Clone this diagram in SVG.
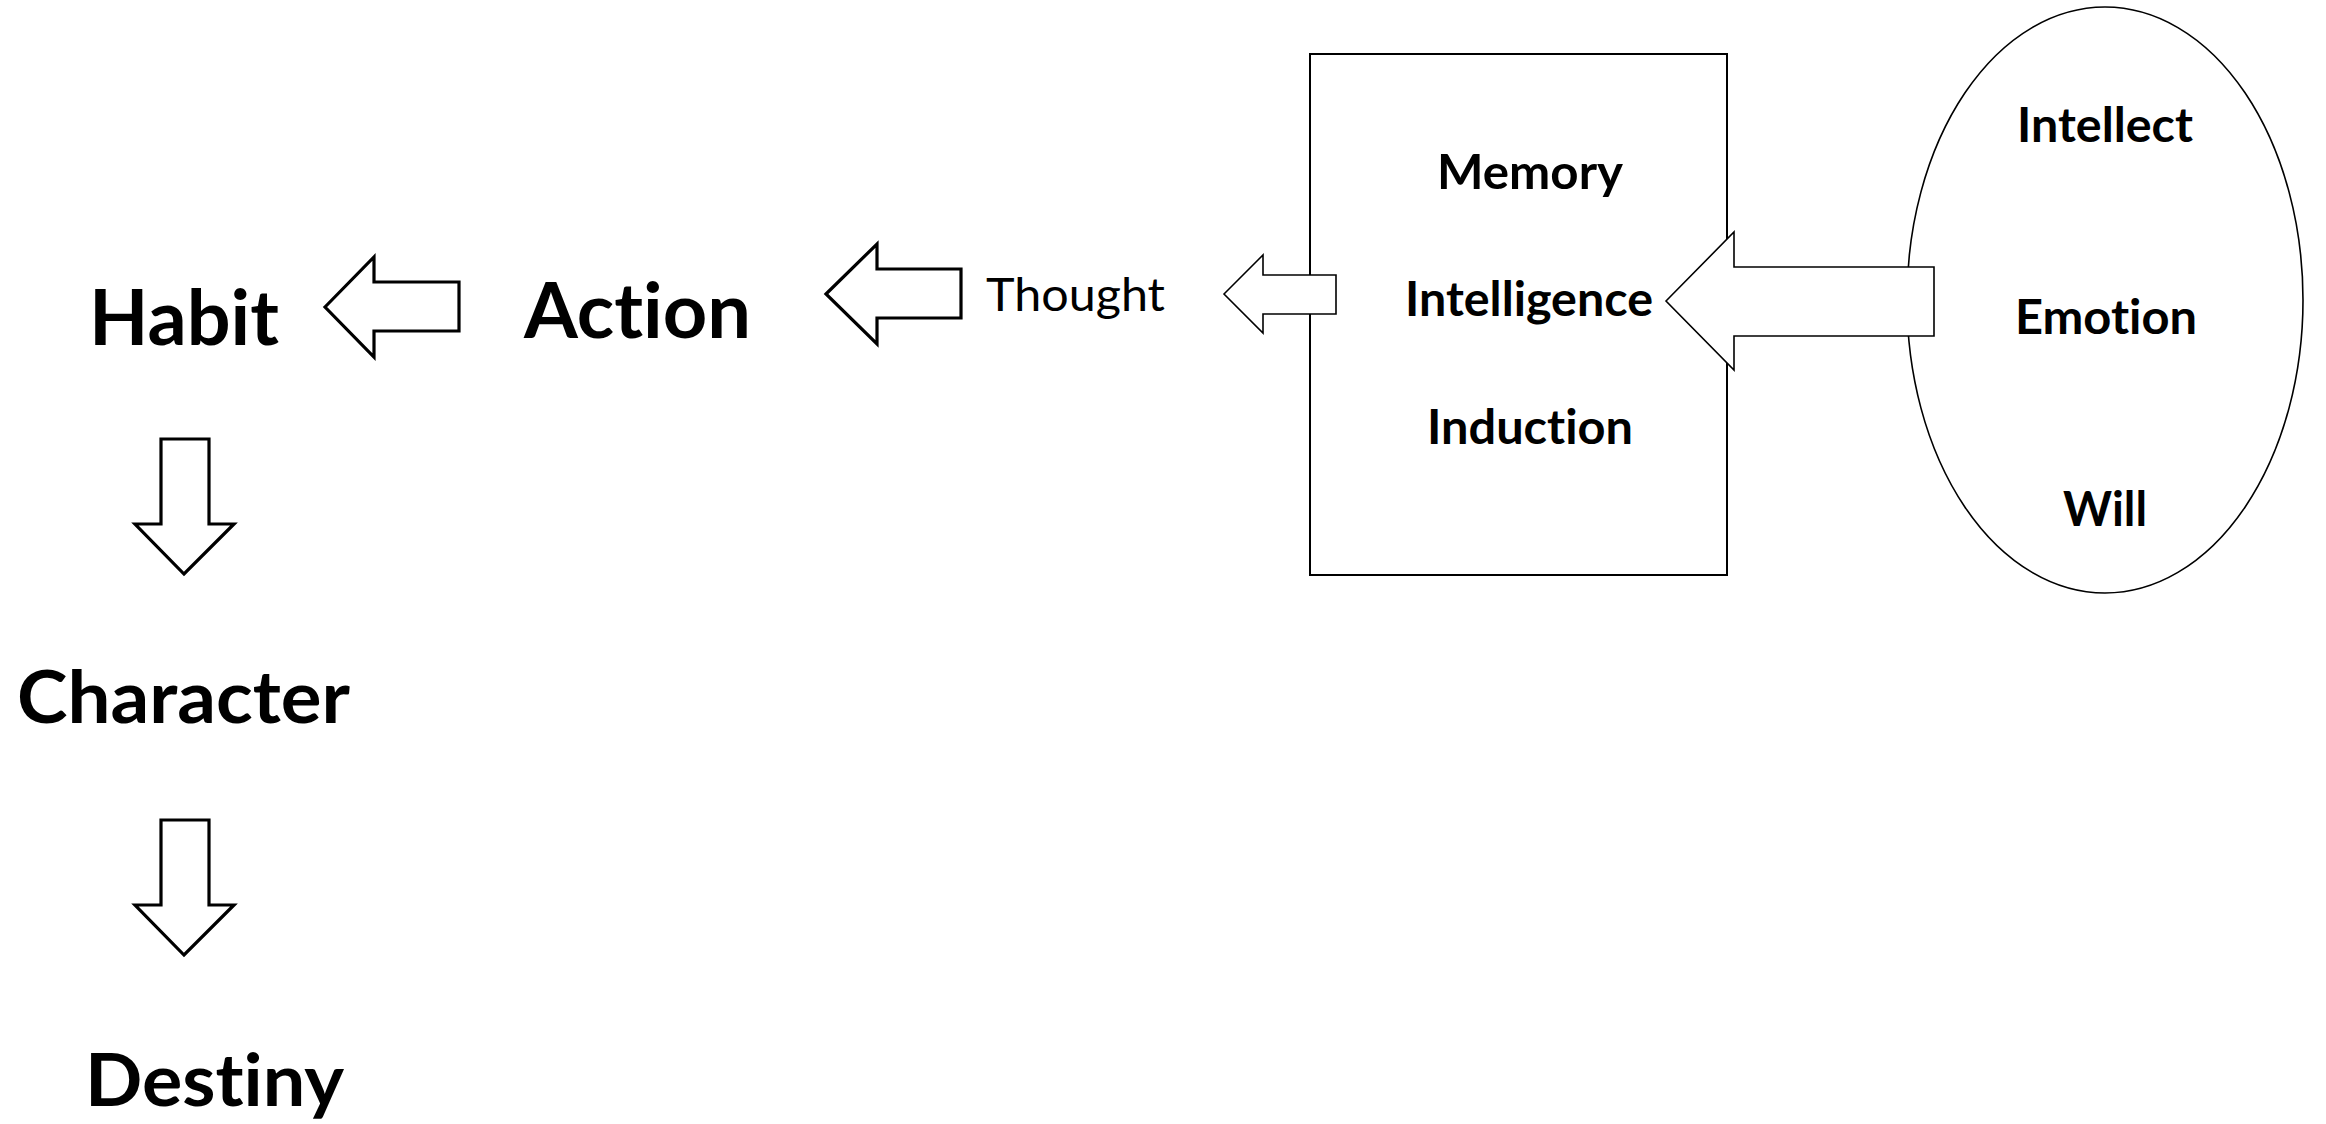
<svg xmlns="http://www.w3.org/2000/svg" width="2326" height="1124" viewBox="0 0 2326 1124">
<style>
.bg{fill:#ffffff}
.lbl{font-family:Lato,"Open Sans","Liberation Sans",sans-serif;font-weight:bold;fill:#000;font-variant-ligatures:none;font-feature-settings:"liga" 0,"clig" 0,"dlig" 0}
.reg{font-family:Lato,"Open Sans","Liberation Sans",sans-serif;font-weight:normal;fill:#000;font-variant-ligatures:none;font-feature-settings:"liga" 0,"clig" 0}
.box{fill:#ffffff;stroke:#000;stroke-width:2}
.oval{fill:#ffffff;stroke:#000;stroke-width:1.6}
.thick{fill:#ffffff;stroke:#000;stroke-width:3.2;stroke-linejoin:miter}
.thin{fill:#ffffff;stroke:#000;stroke-width:1.6;stroke-linejoin:miter}
</style>
<rect class="bg" x="0" y="0" width="2326" height="1124"/>
<g id="mind-box">
<rect class="box" x="1310" y="54" width="417" height="521"/>
<text class="lbl" x="1530" y="189" font-size="47" text-anchor="middle" textLength="186" lengthAdjust="spacingAndGlyphs">Memory</text>
<text class="lbl" x="1529" y="316" font-size="47" text-anchor="middle" textLength="248" lengthAdjust="spacingAndGlyphs">Intelligence</text>
<text class="lbl" x="1530" y="444" font-size="47" text-anchor="middle" textLength="206" lengthAdjust="spacingAndGlyphs">Induction</text>
</g>
<g id="soul-oval">
<ellipse class="oval" cx="2105" cy="300" rx="198" ry="293"/>
<text class="lbl" x="2105" y="142" font-size="47" text-anchor="middle" textLength="176" lengthAdjust="spacingAndGlyphs">Intellect</text>
<text class="lbl" x="2106" y="334" font-size="47" text-anchor="middle" textLength="182" lengthAdjust="spacingAndGlyphs">Emotion</text>
<text class="lbl" x="2105" y="526" font-size="47" text-anchor="middle" textLength="84" lengthAdjust="spacingAndGlyphs">Will</text>
</g>
<g id="thought">
<text class="reg" x="986" y="311" font-size="47" textLength="179" lengthAdjust="spacingAndGlyphs">Thought</text>
</g>
<g id="action">
<text class="lbl" x="524" y="338" font-size="76" textLength="227" lengthAdjust="spacingAndGlyphs">Action</text>
</g>
<g id="habit">
<text class="lbl" x="89" y="345" font-size="76" textLength="190" lengthAdjust="spacingAndGlyphs">Habit</text>
</g>
<g id="character">
<text class="lbl" x="17" y="723" font-size="72" textLength="333" lengthAdjust="spacingAndGlyphs">Character</text>
</g>
<g id="destiny">
<text class="lbl" x="85" y="1106" font-size="73" textLength="259" lengthAdjust="spacingAndGlyphs">Destiny</text>
</g>
<g id="connectors">
<polygon class="thin" points="1666,301 1734,232 1734,267 1934,267 1934,336 1734,336 1734,370"/>
<polygon class="thin" points="1224,294 1263,255 1263,275 1336,275 1336,314 1263,314 1263,333"/>
<polygon class="thick" points="826,294 877,244 877,269 961,269 961,318 877,318 877,344"/>
<polygon class="thick" points="325,307 374,257 374,282 459,282 459,331 374,331 374,357"/>
<polygon class="thick" points="161,439 209,439 209,524 234,524 184,574 135,524 161,524"/>
<polygon class="thick" points="161,820 209,820 209,905 234,905 184,955 135,905 161,905"/>
</g>
</svg>
